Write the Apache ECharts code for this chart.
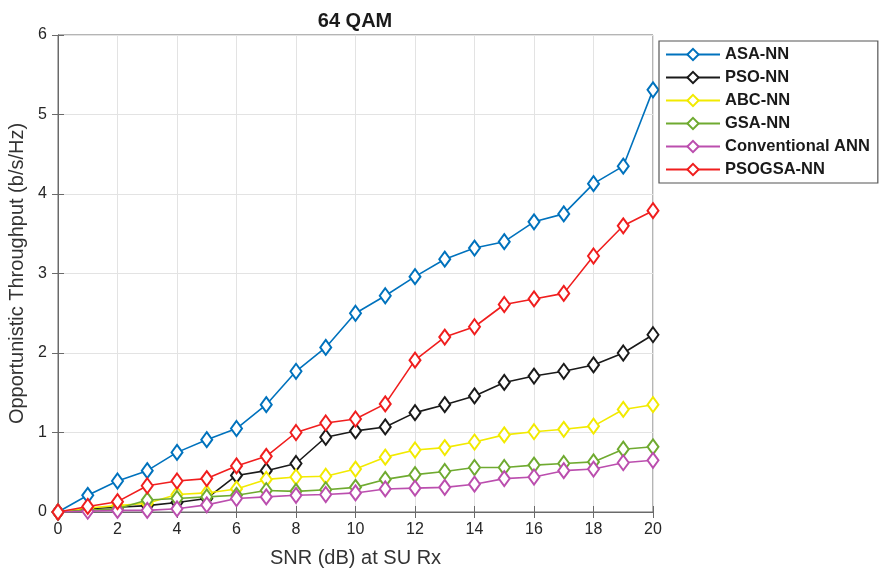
<!DOCTYPE html>
<html><head><meta charset="utf-8">
<script src="https://cdn.jsdelivr.net/npm/echarts@6/dist/echarts.min.js"></script>
<style>html,body{margin:0;padding:0;background:#fff}#c{width:884px;height:572px}</style>
</head><body><div id="c"></div>
<script>
const snr = [0,1,2,3,4,5,6,7,8,9,10,11,12,13,14,15,16,17,18,19,20];
const asaNN  = [0,0.21,0.39,0.52,0.75,0.91,1.05,1.35,1.77,2.07,2.50,2.72,2.96,3.18,3.32,3.40,3.65,3.75,4.13,4.35,5.31];
const psoNN  = [0,0.04,0.06,0.08,0.12,0.17,0.46,0.52,0.61,0.94,1.02,1.07,1.25,1.35,1.46,1.63,1.71,1.77,1.85,2.00,2.23];
const abcNN  = [0,0.05,0.08,0.11,0.22,0.24,0.29,0.41,0.44,0.45,0.54,0.69,0.78,0.81,0.88,0.97,1.01,1.04,1.08,1.29,1.35];
const gsaNN  = [0,0.02,0.04,0.15,0.17,0.19,0.21,0.27,0.26,0.28,0.31,0.41,0.47,0.51,0.56,0.56,0.59,0.61,0.63,0.79,0.82];
const convANN= [0,0.01,0.02,0.02,0.04,0.09,0.17,0.19,0.21,0.22,0.24,0.29,0.30,0.31,0.35,0.42,0.44,0.52,0.54,0.62,0.65];
const psogsaNN=[0,0.07,0.13,0.33,0.39,0.42,0.58,0.70,1.00,1.12,1.17,1.36,1.91,2.20,2.33,2.61,2.68,2.75,3.22,3.60,3.79];
const seriesNames = ['ASA-NN','PSO-NN','ABC-NN','GSA-NN','Conventional ANN','PSOGSA-NN'];
const seriesData = [asaNN, psoNN, abcNN, gsaNN, convANN, psogsaNN];
const colors = ['#0072BD','#1a1a1a','#F2EA00','#6FAA30','#BB4EAE','#F01E1E'];
const xTicks = [0,2,4,6,8,10,12,14,16,18,20];
const yTicks = [0,1,2,3,4,5,6];

const FONT = 'Liberation Sans, Helvetica, Arial, sans-serif';
const chart = echarts.init(document.getElementById('c'));
const axisCol = '#6a6a6a';
const series = seriesNames.map((n,i)=>({
  name:n, type:'line', xAxisIndex:0, yAxisIndex:0,
  data: snr.map((x,j)=>[x, seriesData[i][j]]),
  symbol:'emptyDiamond', symbolSize:[11,15],
  lineStyle:{width:1.6, color:colors[i]},
  itemStyle:{color:colors[i], borderColor:colors[i], borderWidth:1.8},
  z: 2 + i
}));
chart.setOption({
  animation:false,
  backgroundColor:'#fff',
  title:{text:'64 QAM', left:350, top:6, textAlign:'center',
    textStyle:{fontFamily:FONT, fontSize:20, fontWeight:'bold', color:'#1a1a1a'}},
  grid:{left:58, right:231, top:35, bottom:60, show:true, borderColor:axisCol, borderWidth:1,
    containLabel:false, outerBoundsMode:'none'},
  legend:{orient:'vertical', left:659, top:41, width:219,
    itemWidth:54, itemHeight:14, itemGap:6,
    padding:[5,8,5,6],
    backgroundColor:'#fff', borderColor:'#555', borderWidth:1.2,
    textStyle:{fontFamily:FONT, fontSize:16.5, fontWeight:'bold', color:'#1a1a1a'},
    data:seriesNames},
  xAxis:[{
    type:'value', min:0, max:20, interval:2,
    name:'SNR (dB) at SU Rx', nameLocation:'middle', nameGap:36,
    nameTextStyle:{fontFamily:FONT, fontSize:20, color:'#333'},
    axisLine:{show:true, lineStyle:{color:axisCol}},
    axisTick:{show:true, inside:true, length:6, lineStyle:{color:axisCol}},
    axisLabel:{fontFamily:FONT, fontSize:16, color:'#262626', margin:10},
    splitLine:{show:true, lineStyle:{color:'#e3e3e3', width:1}}
  },{
    type:'value', min:0, max:20, interval:2, position:'top',
    axisLine:{show:true, lineStyle:{color:axisCol}},
    axisTick:{show:true, inside:true, length:6, lineStyle:{color:axisCol}},
    axisLabel:{show:false}, splitLine:{show:false}
  }],
  yAxis:[{
    type:'value', min:0, max:6, interval:1,
    name:'Opportunistic Throughput (b/s/Hz)', nameLocation:'middle', nameGap:24,
    nameTextStyle:{fontFamily:FONT, fontSize:20, color:'#333'},
    axisLine:{show:true, lineStyle:{color:axisCol}},
    axisTick:{show:true, inside:true, length:6, lineStyle:{color:axisCol}},
    axisLabel:{fontFamily:FONT, fontSize:16, color:'#262626', margin:11},
    splitLine:{show:true, lineStyle:{color:'#e3e3e3', width:1}}
  },{
    type:'value', min:0, max:6, interval:1, position:'right',
    axisLine:{show:true, lineStyle:{color:axisCol}},
    axisTick:{show:true, inside:true, length:6, lineStyle:{color:axisCol}},
    axisLabel:{show:false}, splitLine:{show:false}
  }],
  series: series
});
</script></body></html>
